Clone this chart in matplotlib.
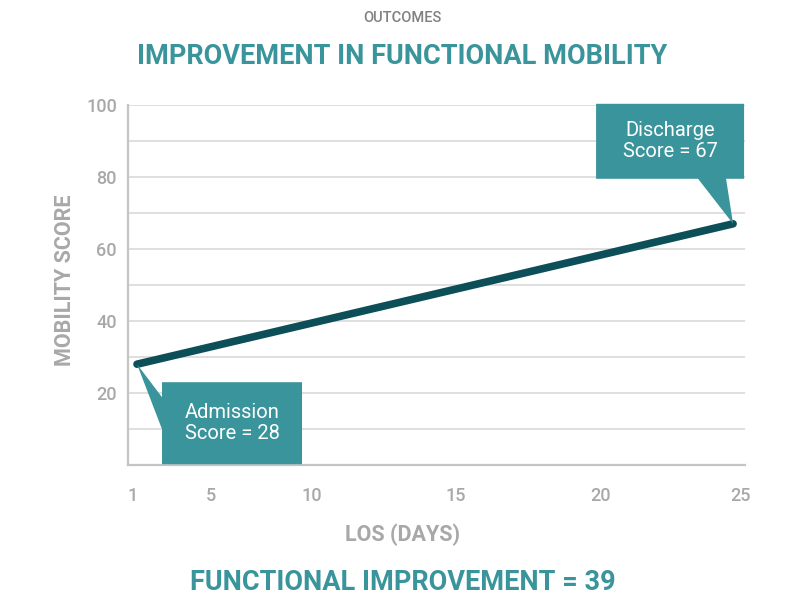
import numpy as np
import matplotlib
matplotlib.use("Agg")
import matplotlib.pyplot as plt
from matplotlib.patches import Polygon
from matplotlib.font_manager import fontManager

# data
days = [1, 25]
scores = [28, 67]
x_tick_labels = ["1", "5", "10", "15", "20", "25"]
y_ticks = [20, 40, 60, 80, 100]
y_grid = [10, 20, 30, 40, 50, 60, 70, 80, 90, 100]
callout_text = ["Admission\nScore = 28", "Discharge\nScore = 67"]

# layout of the (uneven) day labels, in day units
x_tick_pos = [0.84, 3.98, 8.05, 13.85, 19.65, 25.3]

names = {f.name for f in fontManager.ttflist}
narrow = "Liberation Sans Narrow" if "Liberation Sans Narrow" in names else "Roboto"
plt.rcParams['font.family'] = [narrow, 'DejaVu Sans']

teal = "#3a949b"
dark = "#0d4f58"
grey = "#a8a8a8"

fig = plt.figure(figsize=(8.05, 6.04), dpi=100)
ax = fig.add_axes([128/805, 139/604, 617/805, 360/604])

ax.set_xlim(0.637, 25.48)
ax.set_ylim(0, 100)
for g in y_grid:
	ax.axhline(g, color="#d9d9d9", lw=1.2, zorder=0)
for s in ["top", "right"]:
	ax.spines[s].set_visible(False)
for s in ["left", "bottom"]:
	ax.spines[s].set_color("#c4c4c4")
	ax.spines[s].set_linewidth(1.6)

ax.set_yticks(y_ticks)
ax.set_yticklabels([str(v) for v in y_ticks])
ax.set_xticks(x_tick_pos)
ax.set_xticklabels(x_tick_labels)
ax.tick_params(axis="y", length=0, pad=8, labelsize=13, labelcolor=grey)
ax.tick_params(axis="x", length=0, pad=16, labelsize=13, labelcolor=grey)
for t in ax.get_xticklabels() + ax.get_yticklabels():
	t.set_fontweight(500)

ax.plot(days, scores, color=dark, lw=5.5, solid_capstyle="round", zorder=4)

# callouts, shaped in pixel offsets from the data points
fig.canvas.draw()
H = fig.bbox.height

def callout(xd, yd, verts, text, toff):
	px, py = ax.transData.transform((xd, yd))
	pts = [(px + dx, py - dy) for dx, dy in verts]
	fig.patches.append(Polygon(pts, closed=True, transform=None, facecolor=teal,
		edgecolor="none", zorder=3, figure=fig))
	fig.text((px + toff[0]) / fig.bbox.width, (py - toff[1]) / H, text,
		ha="center", va="center", color="white", fontsize=14.5, linespacing=1.1,
		family=["Roboto", "DejaVu Sans"], zorder=5)

callout(days[0], scores[0],
	[(0, 0), (25, 33), (25, 18), (165, 18), (165, 100), (25, 100), (25, 65)],
	callout_text[0], (95, 59))
callout(days[1], scores[1],
	[(0, 0), (-35, -45), (-137, -45), (-137, -120), (11, -120), (11, -45), (-7, -45)],
	callout_text[1], (-63, -83))

fig.text(0.5, 1 - 18/604, "OUTCOMES", ha="center", va="center", fontsize=10.5,
	fontweight=500, color="#808080")
fig.text(0.5, 1 - 57/604, "IMPROVEMENT IN FUNCTIONAL MOBILITY", ha="center", va="center",
	fontsize=19.5, fontweight="bold", color=teal)
fig.text(65/805, 1 - 280/604, "MOBILITY SCORE", ha="center", va="center", rotation=90,
	fontsize=15.5, fontweight="bold", color=grey)
fig.text(0.5, 1 - 535/604, "LOS (DAYS)", ha="center", va="center",
	fontsize=15.5, fontweight="bold", color=grey)
fig.text(0.5, 1 - 582/604, "FUNCTIONAL IMPROVEMENT = 39", ha="center", va="center",
	fontsize=19.5, fontweight="bold", color=teal)

fig.savefig("out.png", dpi=100)
